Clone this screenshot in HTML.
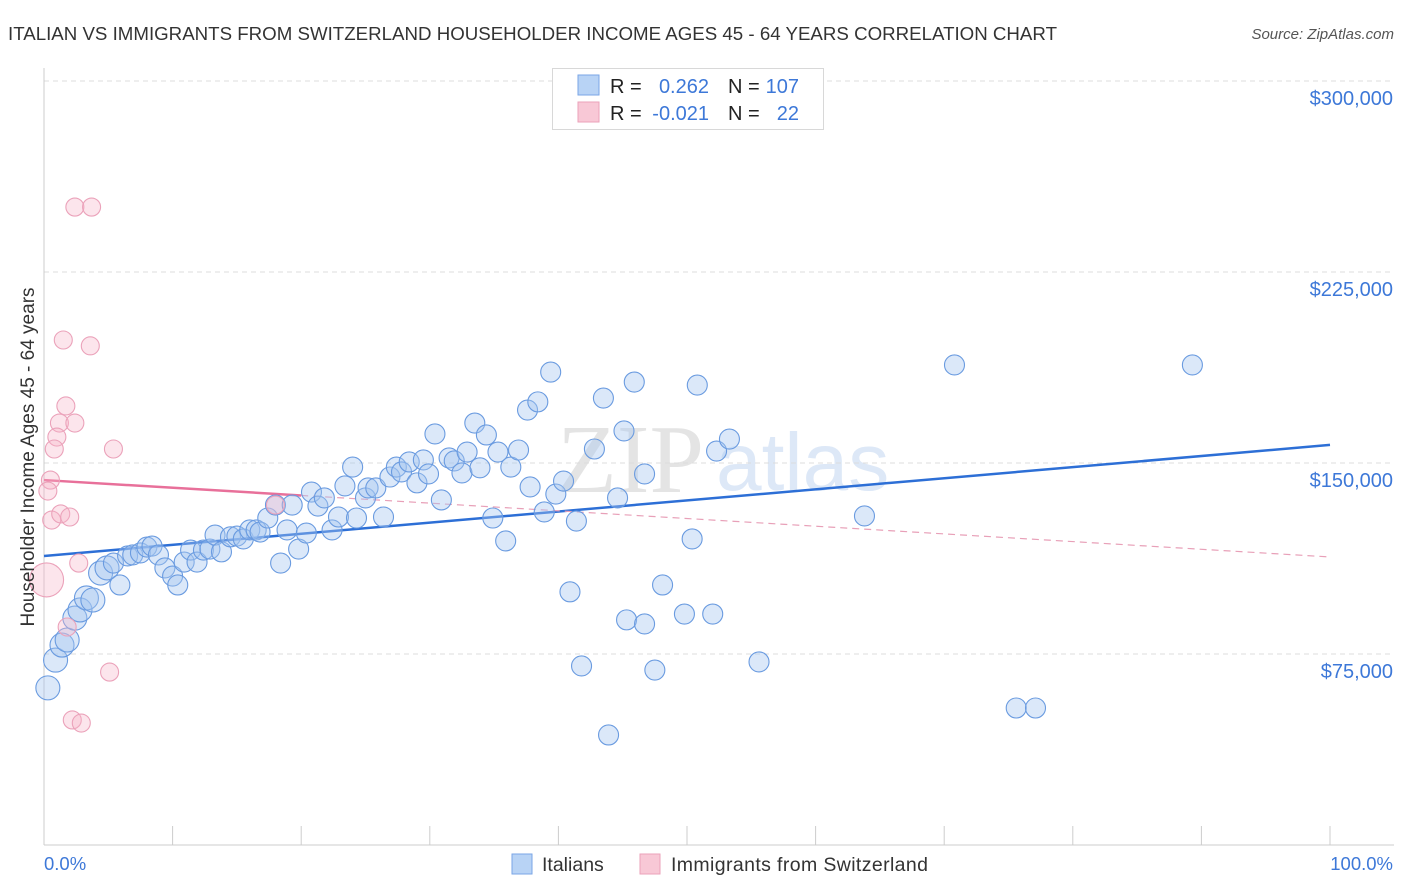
<!DOCTYPE html>
<html><head><meta charset="utf-8"><style>
body{margin:0;background:#fff;font-family:"Liberation Sans",sans-serif;}
svg{display:block}
</style></head><body>
<svg id="chart" width="1406" height="892" xmlns="http://www.w3.org/2000/svg">
<text x="8" y="40" font-size="18" fill="#333" textLength="1049" lengthAdjust="spacingAndGlyphs">ITALIAN VS IMMIGRANTS FROM SWITZERLAND HOUSEHOLDER INCOME AGES 45 - 64 YEARS CORRELATION CHART</text>
<text x="1394" y="39" font-size="15" fill="#555" font-style="italic" text-anchor="end">Source: ZipAtlas.com</text>
<g>
<text x="557" y="492" font-family="Liberation Serif,serif" font-size="98" fill="#e4e4e4">ZIP</text>
<text x="716" y="490" font-size="82" fill="#dde8f7">atlas</text>
</g>
<g id="grid"></g>
<g id="axes"></g>
<g id="trend"></g>
<g id="pts"></g>
<text transform="translate(34,457) rotate(-90)" font-size="19" fill="#333" text-anchor="middle">Householder Income Ages 45 - 64 years</text>
<text x="44" y="870" font-size="18.5" fill="#3d78d8">0.0%</text>
<text x="1393" y="870" font-size="18.5" fill="#3d78d8" text-anchor="end">100.0%</text>
<g>
<rect x="552.5" y="68.5" width="271" height="61" fill="#fff" stroke="#d8d8d8"/>
<rect x="578" y="75" width="21" height="20" fill="#b8d3f5" stroke="#7aa6e6"/>
<rect x="578" y="102" width="21" height="20" fill="#f8c8d6" stroke="#eba2ba"/>
<text x="610" y="93" font-size="20" fill="#222">R = </text><text x="709" y="93" font-size="20" fill="#3d78d8" text-anchor="end">0.262</text>
<text x="728" y="93" font-size="20" fill="#222">N = </text><text x="799" y="93" font-size="20" fill="#3d78d8" text-anchor="end">107</text>
<text x="610" y="120" font-size="20" fill="#222">R = </text><text x="709" y="120" font-size="20" fill="#3d78d8" text-anchor="end">-0.021</text>
<text x="728" y="120" font-size="20" fill="#222">N = </text><text x="799" y="120" font-size="20" fill="#3d78d8" text-anchor="end">22</text>
</g>
<g>
<rect x="512" y="854" width="20" height="20" fill="#b8d3f5" stroke="#7aa6e6"/>
<text x="542" y="871" font-size="19.5" fill="#333">Italians</text>
<rect x="640" y="854" width="20" height="20" fill="#f8c8d6" stroke="#eba2ba"/>
<text x="671" y="871" font-size="19.5" fill="#333" textLength="257">Immigrants from Switzerland</text>
</g>
</svg>
<script>
const yTicks=[75000,150000,225000,300000];
const yTickLabels=["$75,000","$150,000","$225,000","$300,000"];
const blueX=[0.3,0.9,1.4,1.8,2.4,2.8,3.3,3.8,4.4,4.9,5.4,5.9,6.5,6.9,7.5,8.0,8.4,8.9,9.4,10.0,10.4,10.9,11.4,11.9,12.4,12.9,13.3,13.8,14.5,15.0,15.5,16.0,16.5,16.8,17.4,18.0,18.4,18.9,19.3,19.8,20.4,20.8,21.3,21.8,22.4,22.9,23.4,24.0,24.3,25.0,25.2,25.8,26.4,26.9,27.4,27.8,28.4,29.0,29.5,29.9,30.4,30.9,31.5,31.9,32.5,32.9,33.5,33.9,34.4,34.9,35.3,35.9,36.3,36.9,37.6,37.8,38.4,38.9,39.4,39.8,40.4,40.9,41.4,41.8,42.8,43.5,43.9,44.6,45.1,45.3,45.9,46.7,46.7,47.5,48.1,49.8,50.4,50.8,52.0,52.3,53.3,55.6,63.8,70.8,75.6,77.1,89.3];
const blueY=[61.7,72.6,78.5,80.5,89.1,92.3,97.0,96.2,106.8,108.8,110.7,102.1,113.5,113.9,114.7,117.0,117.4,113.9,108.8,105.6,102.1,111.1,115.8,111.1,115.8,116.2,121.7,115.1,121.0,121.3,120.2,123.7,123.7,122.9,128.4,133.5,110.7,123.7,133.5,116.2,122.5,138.6,133.1,136.3,123.7,128.8,141.0,148.4,128.4,136.3,140.2,140.2,128.8,144.5,148.4,146.5,150.4,142.2,151.2,145.7,161.4,135.5,152.0,150.8,146.1,154.3,165.7,148.1,161.0,128.4,154.3,119.4,148.4,155.1,170.8,140.6,174.0,130.8,185.7,137.8,142.9,99.4,127.2,70.3,155.5,175.5,43.2,136.3,162.6,88.4,181.8,86.8,145.7,68.7,102.1,90.7,120.2,180.6,90.7,154.7,159.4,71.9,129.2,188.5,53.8,53.8,188.5];
const pinkX=[2.4,3.7,1.5,3.6,1.7,1.2,2.4,1.0,0.8,5.4,0.5,0.3,0.6,1.3,2.0,18.0,2.7,0.2,1.8,5.1,2.2,2.9];
const pinkY=[250.5,250.5,198.3,196.0,172.4,165.7,165.7,160.2,155.5,155.5,143.3,139.0,127.6,130.0,128.8,133.5,110.7,104.1,85.6,67.9,49.1,47.9];
const blueTrend=[113.5,157.1];
const pinkTrend=[143.3,113.1];
const NS="http://www.w3.org/2000/svg";
const X=p=>44+p*12.86;
const Y=v=>845-v*191/75000;
function mk(tag,attrs,parent){const e=document.createElementNS(NS,tag);for(const k in attrs)e.setAttribute(k,attrs[k]);parent.appendChild(e);return e;}
const grid=document.getElementById('grid'),axes=document.getElementById('axes'),trend=document.getElementById('trend'),pts=document.getElementById('pts');
yTicks.forEach((t,i)=>{
 const l=mk('line',{x1:44,x2:1394,y1:Y(t),y2:Y(t),stroke:'#dcdcdc','stroke-dasharray':'5,4'},grid);
 
 
 const tx=mk('text',{x:1393,y:Y(t)+24,'font-size':20,fill:'#3d78d8','text-anchor':'end'},axes);
 tx.textContent=yTickLabels[i];
 
 
});
const ax=mk('line',{x1:44,x2:1394,y1:845,y2:845,stroke:'#ccc'},axes);


const ay=mk('line',{x1:44,x2:44,y1:68,y2:845,stroke:'#ccc'},axes);


for(let i=0;i<=10;i++){
 const tk=mk('line',{x1:X(i*10),x2:X(i*10),y1:826,y2:845,stroke:'#ccc'},axes);
 
 
}
blueX.forEach((x,i)=>{
 const r=i<10?12:10;
 const c=mk('circle',{cx:X(x),cy:Y(blueY[i]*1000),r:r,fill:'rgba(165,198,240,0.4)',stroke:'#6a9be0','stroke-width':1.1},pts);
 
 
});
pinkX.forEach((x,i)=>{
 const r=i==17?17:9;
 const c=mk('circle',{cx:X(x),cy:Y(pinkY[i]*1000),r:r,fill:'rgba(245,180,200,0.35)',stroke:'#eba2ba','stroke-width':1.1},pts);
 
 
});
const pv=p=>pinkTrend[0]+(pinkTrend[1]-pinkTrend[0])*p/100;
const bl=mk('line',{x1:X(0),y1:Y(blueTrend[0]*1000),x2:X(100),y2:Y(blueTrend[1]*1000),stroke:'#2d6fd6','stroke-width':2.5},trend);


const ps=mk('line',{x1:X(0),y1:Y(pv(0)*1000),x2:X(20),y2:Y(pv(20)*1000),stroke:'#e8709a','stroke-width':2.5},trend);


const pd=mk('line',{x1:X(20),y1:Y(pv(20)*1000),x2:X(100),y2:Y(pv(100)*1000),stroke:'#e8a0b8','stroke-width':1.2,'stroke-dasharray':'7,5'},trend);


</script>
</body></html>
